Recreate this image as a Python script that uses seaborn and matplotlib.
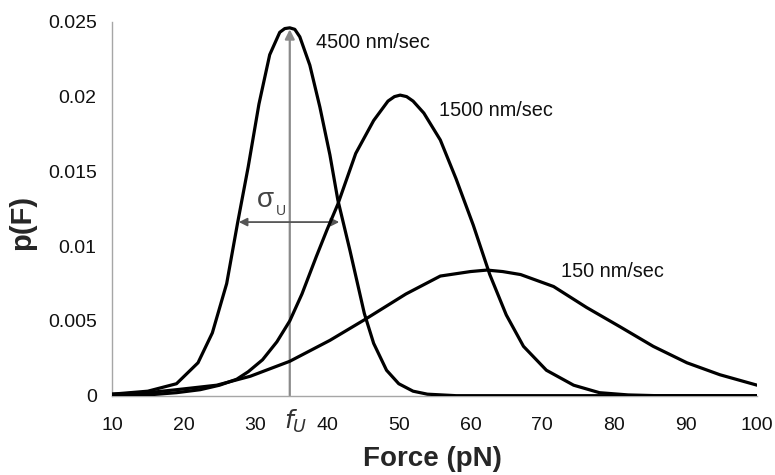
import pandas as pd
import matplotlib.pyplot as plt
import seaborn as sns

# Curve values (force in pN, probability density)
force_4500 = [10, 15, 19, 22, 24, 26, 27.5, 29, 30.5, 32, 33.4, 34.1, 34.8, 35.5, 36.2, 37.6,
              39, 40.4, 41.5, 43.2, 45.2, 46.5, 48.3, 50, 52, 54, 58, 100]
p_4500 = [0.0001, 0.0003, 0.0008, 0.0022, 0.0042, 0.0075, 0.0115, 0.0153, 0.0195, 0.0228,
          0.0243, 0.02455, 0.0246, 0.0245, 0.0240, 0.0221, 0.0193, 0.0161, 0.0131, 0.0097,
          0.0055, 0.0035, 0.0017, 0.0008, 0.0003, 0.0001, 0.0, 0.0]

force_1500 = [10, 15, 19, 22.3, 25, 27.4, 29, 31, 33, 34.8, 36.5, 38.5, 40, 41.5, 44, 46.5,
              48.5, 49.4, 50.2, 51.1, 52, 53.5, 55.8, 58, 60.4, 62.7, 65, 67.4, 70.6, 74.4,
              78, 82, 86, 100]
p_1500 = [0.0, 0.00005, 0.0002, 0.0004, 0.0007, 0.0011, 0.0016, 0.0024, 0.0036, 0.0050,
          0.0068, 0.0093, 0.0111, 0.0128, 0.0162, 0.0184, 0.0197, 0.0200, 0.0201, 0.0200,
          0.0197, 0.0189, 0.0171, 0.0145, 0.0114, 0.0081, 0.0054, 0.0033, 0.0017, 0.0007,
          0.0002, 0.00005, 0.0, 0.0]

force_150 = [10, 15, 19, 24.6, 29.3, 34.8, 40.4, 45.3, 51, 55.8, 60, 62.3, 64.5, 67, 71.6,
             76.2, 80.9, 85.5, 90.2, 94.8, 100]
p_150 = [0.0001, 0.0002, 0.0004, 0.0007, 0.0013, 0.0023, 0.0037, 0.0051, 0.0068, 0.0080,
         0.0083, 0.0084, 0.0083, 0.0081, 0.0073, 0.0059, 0.0046, 0.0033, 0.0022, 0.0014,
         0.0007]

speeds = ["4500 nm/sec", "1500 nm/sec", "150 nm/sec"]
label_pos = [(38.4, 0.02365), (55.6, 0.0191), (72.6, 0.0083)]

f_u = 34.8          # most probable unfolding force
p_peak = 0.0245
sigma_left, sigma_right, sigma_y = 27.7, 41.7, 0.01161

x_ticks = [10, 20, 30, 40, 50, 60, 70, 80, 90, 100]
y_ticks = [0, 0.005, 0.01, 0.015, 0.02, 0.025]
y_ticklabels = ["0", "0.005", "0.01", "0.015", "0.02", "0.025"]

df = pd.concat([
    pd.DataFrame({"Force": force_4500, "p": p_4500, "speed": speeds[0]}),
    pd.DataFrame({"Force": force_1500, "p": p_1500, "speed": speeds[1]}),
    pd.DataFrame({"Force": force_150, "p": p_150, "speed": speeds[2]}),
])

sns.set_style("white")
plt.rcParams["font.family"] = ["Liberation Sans", "DejaVu Sans"]

fig, ax = plt.subplots(figsize=(7.75, 4.75), dpi=100)
fig.subplots_adjust(left=0.1445, right=0.977, top=0.954, bottom=0.167)

# annotation arrows go under the curves
ax.annotate("", xy=(f_u, p_peak), xytext=(f_u, 0),
            arrowprops=dict(arrowstyle="-|>", color="#8a8a8a", lw=1.6,
                            mutation_scale=14, shrinkA=0, shrinkB=0), zorder=1)
ax.annotate("", xy=(sigma_left, sigma_y), xytext=(sigma_right, sigma_y),
            arrowprops=dict(arrowstyle="<|-|>", color="#555555", lw=1.3,
                            mutation_scale=12, shrinkA=0, shrinkB=0), zorder=1)

sns.lineplot(data=df, x="Force", y="p", hue="speed", units="speed", estimator=None,
             palette={s: "black" for s in speeds}, linewidth=2.3, legend=False,
             ax=ax, zorder=3)

for s, (lx, ly) in zip(speeds, label_pos):
    ax.text(lx, ly, s, fontsize=14.3, va="center", ha="left", color="#111111")

ax.text(31.35, 0.0131, r"$\mathregular{\sigma}$", fontsize=20, ha="center", va="center",
        color="#444444")
ax.text(32.8, 0.01235, "U", fontsize=10, ha="left", va="center", color="#444444")
ax.text(35.6, -0.0008, r"$f_U$", fontsize=18, ha="center", va="top", color="#333333",
        clip_on=False)

ax.set_xlim(10, 100)
ax.set_ylim(0, 0.025)
ax.set_xticks(x_ticks)
ax.set_yticks(y_ticks)
ax.set_yticklabels(y_ticklabels)
ax.tick_params(axis="both", labelsize=14, colors="#111111", length=5, width=1,
               direction="out", color="#a6a6a6")
ax.tick_params(axis="x", pad=10)
ax.tick_params(axis="y", pad=6)
for side in ["top", "right"]:
    ax.spines[side].set_visible(False)
for side in ["left", "bottom"]:
    ax.spines[side].set_color("#a6a6a6")
    ax.spines[side].set_linewidth(1)

ax.set_xlabel("Force (pN)", fontsize=20, fontweight="bold")
ax.set_ylabel("p(F)", fontsize=21, fontweight="bold")
ax.xaxis.set_label_coords(0.497, -0.134)
ax.yaxis.set_label_coords(-0.139, 0.463)
ax.yaxis.label.set_va("center")

plt.savefig("out.png", dpi=100)
